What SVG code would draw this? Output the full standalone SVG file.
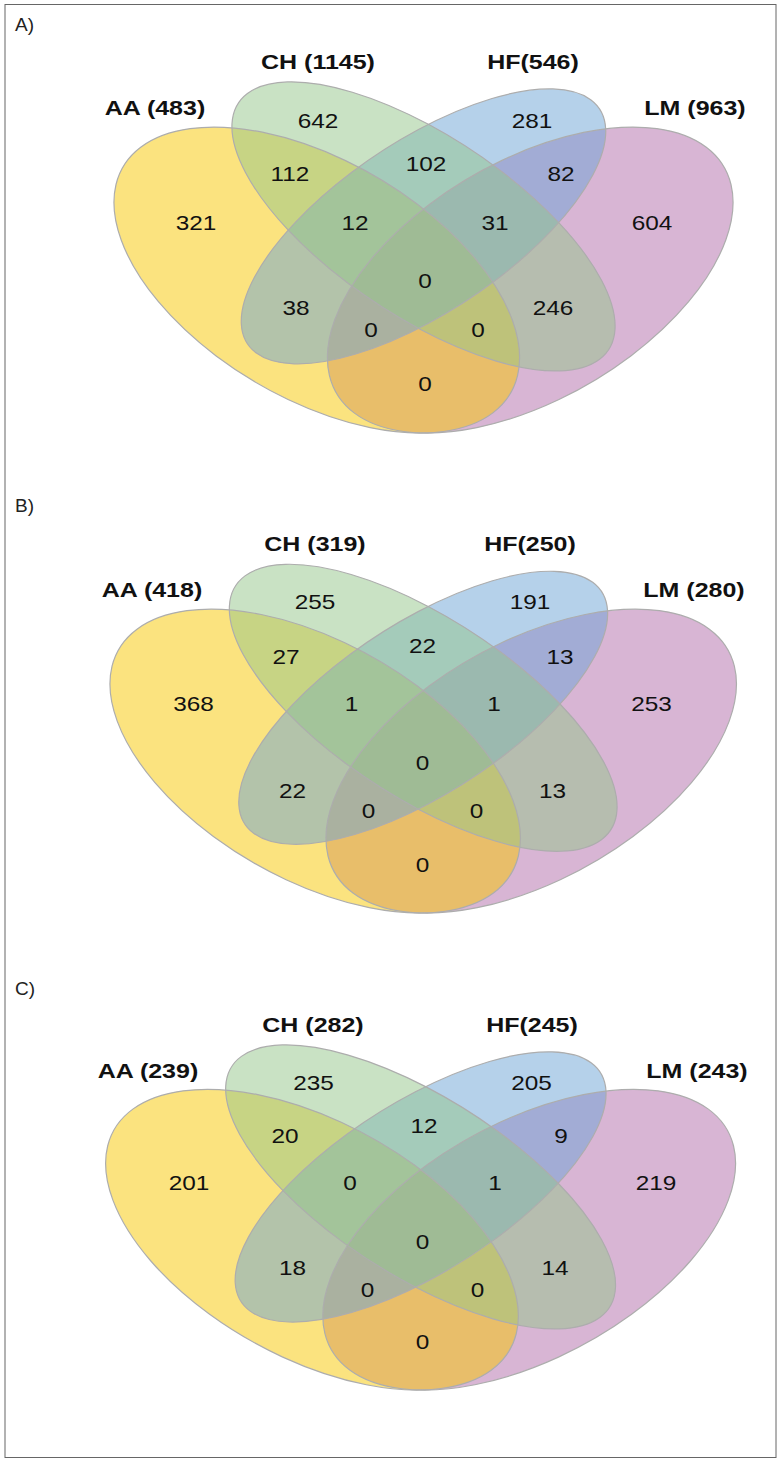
<svg xmlns="http://www.w3.org/2000/svg" xmlns:xlink="http://www.w3.org/1999/xlink" width="780" height="1462" viewBox="0 0 780 1462">
<style>
.fLM{fill:#B16BA9;fill-opacity:.5}
.fAA{fill:#F7C700;fill-opacity:.5}
.fHF{fill:#6BA3D5;fill-opacity:.5}
.fCH{fill:#93C589;fill-opacity:.5}
.ol{fill:none;stroke:#ADADAD;stroke-width:1.2}
.n{font-family:"Liberation Sans",Arial,sans-serif;font-size:21px;text-anchor:middle;fill:#111}
.l{font-family:"Liberation Sans",Arial,sans-serif;font-size:20px;font-weight:bold;text-anchor:middle;fill:#111}
.p{font-family:"Liberation Sans",Arial,sans-serif;font-size:19px;fill:#222}
</style>
<defs>
<ellipse id="eAA" cx="0.35" cy="0.47" rx="0.35" ry="0.2" transform="rotate(-45 0.35 0.47)" vector-effect="non-scaling-stroke"/>
<ellipse id="eCH" cx="0.5" cy="0.57" rx="0.35" ry="0.15" transform="rotate(-45 0.5 0.57)" vector-effect="non-scaling-stroke"/>
<ellipse id="eHF" cx="0.5" cy="0.57" rx="0.333" ry="0.1426" transform="rotate(45 0.5 0.57)" vector-effect="non-scaling-stroke"/>
<ellipse id="eLM" cx="0.65" cy="0.47" rx="0.35" ry="0.2" transform="rotate(45 0.65 0.47)" vector-effect="non-scaling-stroke"/>
</defs>
<rect width="780" height="1462" fill="#ffffff"/>
<rect x="5" y="4.5" width="771" height="1453" fill="none" stroke="#666" stroke-width="1"/>

<g id="panelA">
<text class="p" x="15" y="31">A)</text>
<g id="A-sets" transform="matrix(711.5 0 0 -536.7 67.75 532.3)">
<use href="#eLM" class="fLM"/><use href="#eAA" class="fAA"/><use href="#eHF" class="fHF"/><use href="#eCH" class="fCH"/>
<use href="#eLM" class="ol"/><use href="#eAA" class="ol"/><use href="#eHF" class="ol"/><use href="#eCH" class="ol"/>
</g>
<g id="A-labels">
<text class="l" transform="translate(155 114.5) scale(1.25 1)">AA (483)</text>
<text class="l" transform="translate(318 68.5) scale(1.25 1)">CH (1145)</text>
<text class="l" transform="translate(533 68.5) scale(1.25 1)">HF(546)</text>
<text class="l" transform="translate(695 114.5) scale(1.25 1)">LM (963)</text>
</g>
<g id="A-counts">
<text class="n" transform="translate(318 127.5) scale(1.16 1)">642</text>
<text class="n" transform="translate(532 127.5) scale(1.16 1)">281</text>
<text class="n" transform="translate(290 180.5) scale(1.16 1)">112</text>
<text class="n" transform="translate(426 170.5) scale(1.16 1)">102</text>
<text class="n" transform="translate(561 180.5) scale(1.16 1)">82</text>
<text class="n" transform="translate(196 229.5) scale(1.16 1)">321</text>
<text class="n" transform="translate(355 229.5) scale(1.16 1)">12</text>
<text class="n" transform="translate(495 229.5) scale(1.16 1)">31</text>
<text class="n" transform="translate(652 229.5) scale(1.16 1)">604</text>
<text class="n" transform="translate(425 287.5) scale(1.16 1)">0</text>
<text class="n" transform="translate(296 314.5) scale(1.16 1)">38</text>
<text class="n" transform="translate(553 314.5) scale(1.16 1)">246</text>
<text class="n" transform="translate(371 336.5) scale(1.16 1)">0</text>
<text class="n" transform="translate(478 336.5) scale(1.16 1)">0</text>
<text class="n" transform="translate(425 390.5) scale(1.16 1)">0</text>
</g>
</g>

<g id="panelB">
<text class="p" x="15" y="512">B)</text>
<g id="B-sets" transform="matrix(720 0 0 -533 63.2 1011.6)">
<use href="#eLM" class="fLM"/><use href="#eAA" class="fAA"/><use href="#eHF" class="fHF"/><use href="#eCH" class="fCH"/>
<use href="#eLM" class="ol"/><use href="#eAA" class="ol"/><use href="#eHF" class="ol"/><use href="#eCH" class="ol"/>
</g>
<g id="B-labels">
<text class="l" transform="translate(152 597) scale(1.25 1)">AA (418)</text>
<text class="l" transform="translate(315 550.5) scale(1.25 1)">CH (319)</text>
<text class="l" transform="translate(530 550.5) scale(1.25 1)">HF(250)</text>
<text class="l" transform="translate(694 597) scale(1.25 1)">LM (280)</text>
</g>
<g id="B-counts">
<text class="n" transform="translate(315 609.2) scale(1.16 1)">255</text>
<text class="n" transform="translate(530 609.2) scale(1.16 1)">191</text>
<text class="n" transform="translate(286 663.5) scale(1.16 1)">27</text>
<text class="n" transform="translate(422.5 652.5) scale(1.16 1)">22</text>
<text class="n" transform="translate(560 663.5) scale(1.16 1)">13</text>
<text class="n" transform="translate(193.5 710.8) scale(1.16 1)">368</text>
<text class="n" transform="translate(351.5 710.8) scale(1.16 1)">1</text>
<text class="n" transform="translate(494 710.8) scale(1.16 1)">1</text>
<text class="n" transform="translate(651.5 710.8) scale(1.16 1)">253</text>
<text class="n" transform="translate(422.5 770.2) scale(1.16 1)">0</text>
<text class="n" transform="translate(292.5 797.5) scale(1.16 1)">22</text>
<text class="n" transform="translate(552.5 797.5) scale(1.16 1)">13</text>
<text class="n" transform="translate(368.5 818.2) scale(1.16 1)">0</text>
<text class="n" transform="translate(476.5 818.2) scale(1.16 1)">0</text>
<text class="n" transform="translate(422.5 871.8) scale(1.16 1)">0</text>
</g>
</g>

<g id="panelC">
<text class="p" x="15" y="995">C)</text>
<g id="C-sets" transform="matrix(724 0 0 -527.5 58.6 1487.6)">
<use href="#eLM" class="fLM"/><use href="#eAA" class="fAA"/><use href="#eHF" class="fHF"/><use href="#eCH" class="fCH"/>
<use href="#eLM" class="ol"/><use href="#eAA" class="ol"/><use href="#eHF" class="ol"/><use href="#eCH" class="ol"/>
</g>
<g id="C-labels">
<text class="l" transform="translate(148 1077.5) scale(1.25 1)">AA (239)</text>
<text class="l" transform="translate(313 1031.5) scale(1.25 1)">CH (282)</text>
<text class="l" transform="translate(532 1031.5) scale(1.25 1)">HF(245)</text>
<text class="l" transform="translate(697 1077.5) scale(1.25 1)">LM (243)</text>
</g>
<g id="C-counts">
<text class="n" transform="translate(313.5 1090.2) scale(1.16 1)">235</text>
<text class="n" transform="translate(531.5 1090.2) scale(1.16 1)">205</text>
<text class="n" transform="translate(285 1143.2) scale(1.16 1)">20</text>
<text class="n" transform="translate(424 1132.5) scale(1.16 1)">12</text>
<text class="n" transform="translate(561 1143.2) scale(1.16 1)">9</text>
<text class="n" transform="translate(189 1190.2) scale(1.16 1)">201</text>
<text class="n" transform="translate(350 1190.2) scale(1.16 1)">0</text>
<text class="n" transform="translate(495 1190.2) scale(1.16 1)">1</text>
<text class="n" transform="translate(656 1190.2) scale(1.16 1)">219</text>
<text class="n" transform="translate(422.5 1248.5) scale(1.16 1)">0</text>
<text class="n" transform="translate(292.5 1274.8) scale(1.16 1)">18</text>
<text class="n" transform="translate(555 1274.8) scale(1.16 1)">14</text>
<text class="n" transform="translate(367.5 1296.8) scale(1.16 1)">0</text>
<text class="n" transform="translate(477.5 1296.8) scale(1.16 1)">0</text>
<text class="n" transform="translate(422.5 1348.5) scale(1.16 1)">0</text>
</g>
</g>
</svg>
